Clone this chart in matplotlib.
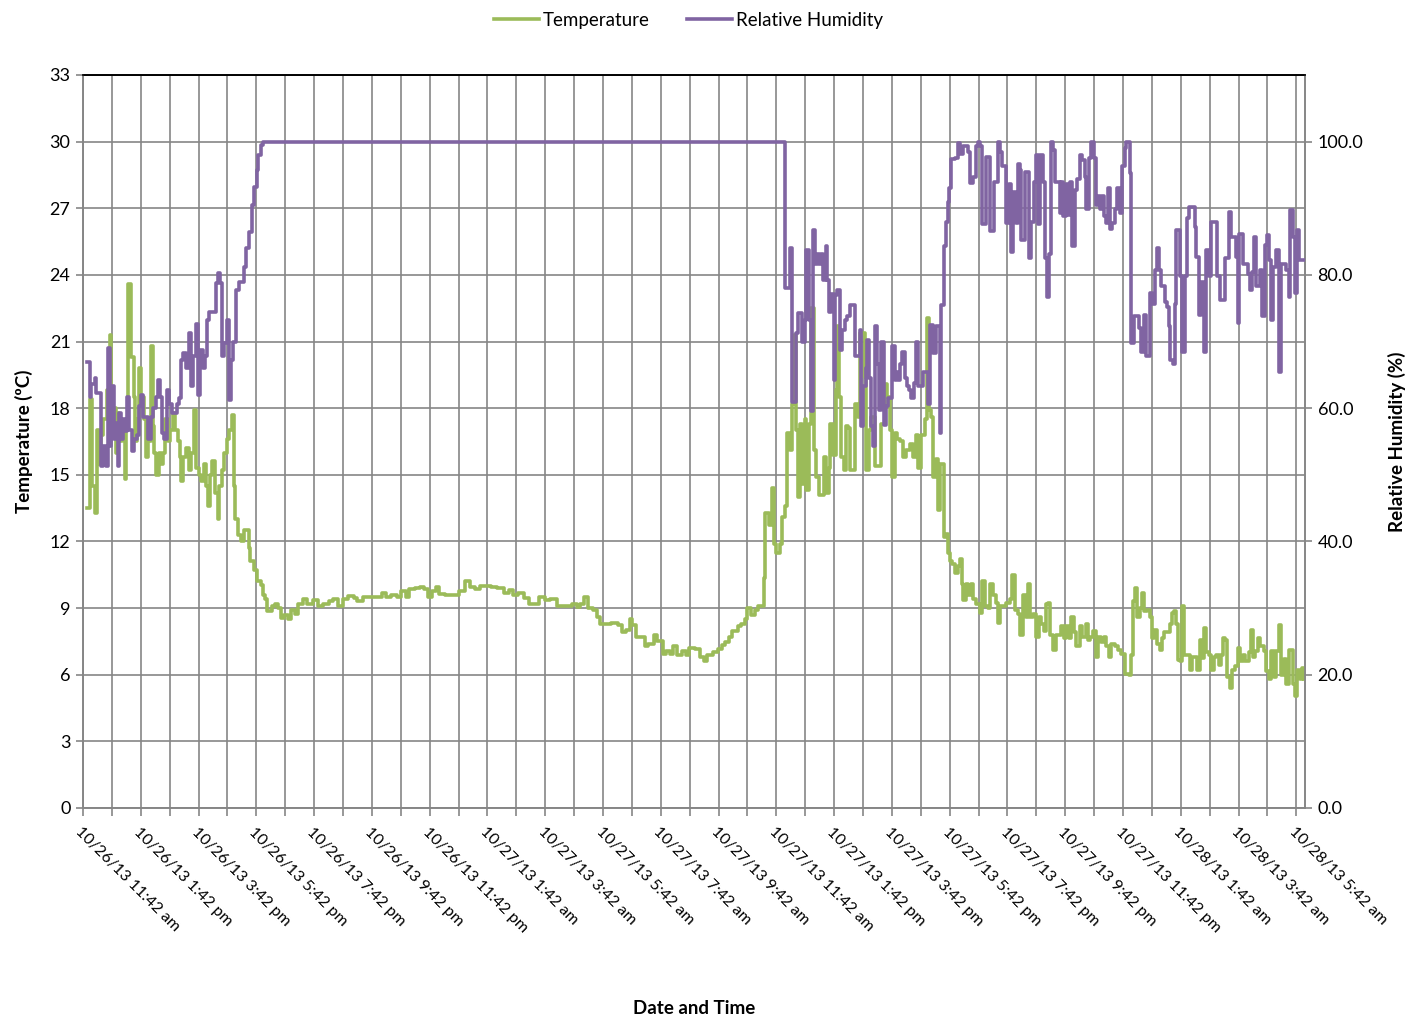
import numpy as np
import matplotlib.pyplot as plt
from matplotlib.ticker import FormatStrFormatter

plt.rcParams['font.family'] = ['Lato', 'DejaVu Sans']

GREEN = "#9BBB59"
PURPLE = "#8064A2"
GRID = "#868686"

# hours elapsed since 10/26/13 11:42 am
temp_hours = [
    0.14, 0.23, 0.30, 0.41, 0.48, 0.55, 0.63, 0.71, 0.83, 0.92, 0.98, 1.06, 1.13, 1.20,
    1.26, 1.36, 1.44, 1.49, 1.57, 1.67, 1.75, 1.80, 1.86, 1.93, 2.00, 2.10, 2.18, 2.25,
    2.36, 2.41, 2.47, 2.53, 2.62, 2.70, 2.78, 2.85, 2.93, 3.01, 3.10, 3.20, 3.28, 3.36,
    3.41, 3.47, 3.56, 3.66, 3.74, 3.83, 3.91, 4.00, 4.09, 4.20, 4.25, 4.33, 4.41, 4.48,
    4.57, 4.66, 4.71, 4.80, 4.89, 4.97, 5.06, 5.15, 5.23, 5.26, 5.38, 5.48, 5.57, 5.73,
    5.79, 5.91,
    6.04, 6.16, 6.22, 6.31, 6.38, 6.53, 6.66, 6.75, 6.84, 6.96, 7.09, 7.21, 7.33, 7.46,
    7.62, 7.77, 7.95, 8.14, 8.32, 8.51, 8.66, 8.82, 9.00, 9.19, 9.37, 9.50, 9.68, 9.87,
    10.12, 10.34, 10.49, 10.67, 10.86, 11.01, 11.17, 11.29, 11.48, 11.66, 11.82, 11.95,
    12.09, 12.22, 12.34, 12.53, 12.84, 13.02, 13.21, 13.39, 13.58, 13.76, 13.95, 14.13,
    14.32, 14.57, 14.75, 14.88, 15.06, 15.25, 15.43, 15.62, 15.80, 15.99, 16.17, 16.42,
    16.67, 16.91, 17.10, 17.22, 17.35, 17.47, 17.66, 17.78, 17.90, 18.03, 18.27, 18.52,
    18.65, 18.79, 18.92, 19.02, 19.14, 19.33, 19.45, 19.57, 19.76, 19.88, 20.07, 20.19,
    20.31, 20.44, 20.56, 20.75, 20.87, 20.99, 21.18, 21.36, 21.49, 21.61, 21.80, 21.98,
    22.11, 22.23, 22.35, 22.48, 22.66, 22.79, 22.91, 23.00, 23.12, 23.25, 23.37, 23.49,
    23.57, 23.62,
    23.75, 23.86, 23.91, 24.00, 24.12, 24.21, 24.29, 24.37, 24.46, 24.55, 24.61, 24.67,
    24.75, 24.81, 24.90, 24.98, 25.04, 25.13, 25.21, 25.29, 25.38, 25.48, 25.56, 25.64,
    25.73, 25.82, 25.87, 25.96, 26.05, 26.11, 26.17, 26.25, 26.33, 26.40, 26.48, 26.56,
    26.65, 26.73, 26.83, 26.88, 26.98, 27.06, 27.11, 27.21, 27.29, 27.40, 27.52, 27.63,
    27.75, 27.83, 27.92, 28.01, 28.09, 28.18, 28.27, 28.38, 28.50, 28.61, 28.73, 28.82,
    28.90, 29.02, 29.13, 29.21, 29.28, 29.36, 29.42, 29.51, 29.59, 29.67, 29.74, 29.82,
    29.88, 29.94,
    30.00, 30.09, 30.17, 30.29, 30.37, 30.42, 30.46, 30.55, 30.63, 30.75, 30.81, 30.92,
    31.04, 31.13, 31.21, 31.33, 31.41, 31.50, 31.59, 31.67, 31.73, 31.85, 31.96, 32.08,
    32.16, 32.25, 32.36, 32.45, 32.54, 32.63, 32.71, 32.79, 32.88, 33.00, 33.09, 33.17,
    33.25, 33.32, 33.40, 33.48, 33.58, 33.69, 33.78, 33.86, 33.94, 34.04, 34.13, 34.21,
    34.30, 34.38, 34.50, 34.59, 34.71, 34.79, 34.87, 34.96, 35.05, 35.13, 35.25, 35.33,
    35.42, 35.51, 35.59, 35.71, 35.82, 35.94, 36.06,
    36.20, 36.28, 36.35, 36.43, 36.48, 36.58, 36.66, 36.74, 36.83, 36.92, 37.00, 37.08,
    37.18, 37.27, 37.35, 37.43, 37.52, 37.61, 37.70, 37.78, 37.85, 37.89, 37.98, 38.04,
    38.12, 38.21, 38.31, 38.39, 38.47, 38.56, 38.65, 38.73, 38.81, 38.88, 38.96, 39.04,
    39.14, 39.23, 39.31, 39.39, 39.46, 39.54, 39.60, 39.69, 39.77, 39.89, 39.97, 40.06,
    40.15, 40.23, 40.35, 40.43, 40.50, 40.58, 40.66, 40.75, 40.87, 40.96, 41.04, 41.12,
    41.21, 41.31, 41.39, 41.47, 41.56, 41.65, 41.73, 41.81, 41.88, 41.95, 42.02, 42.11,
    42.19, 42.27,
]
temperature = [
    13.5, 18.4, 14.5, 13.3, 17.0, 15.5, 16.8, 17.5, 18.8, 21.3, 17.5, 18.0, 16.0, 17.8,
    16.5, 17.0, 14.8, 17.5, 23.6, 20.3, 18.5, 16.5, 17.5, 19.8, 18.5, 17.5, 15.8, 16.5,
    20.8, 17.2, 16.0, 15.0, 16.0, 15.5, 16.0, 17.5, 16.5, 17.0, 17.8, 17.0, 16.5, 15.8,
    14.7, 15.8, 16.2, 15.2, 16.0, 17.9, 15.3, 15.0, 14.7, 15.5, 14.5, 13.6, 15.0, 15.6,
    14.2, 13.0, 14.5, 15.2, 16.0, 16.6, 17.0, 17.7, 14.5, 13.0, 12.3, 12.0, 12.5, 11.7,
    11.1, 10.7,
    10.2, 10.05, 9.6, 9.4, 8.85, 9.1, 9.2, 9.0, 8.55, 8.7, 8.5, 8.9, 8.75, 9.2,
    9.4, 9.2, 9.35, 9.1, 9.2, 9.3, 9.4, 9.1, 9.4, 9.55, 9.45, 9.3, 9.5, 9.5,
    9.5, 9.7, 9.5, 9.6, 9.5, 9.75, 9.5, 9.85, 9.9, 9.95, 9.85, 9.5,
    9.75, 9.95, 9.65, 9.6, 9.6, 9.75, 10.2, 9.95, 9.85, 10.0, 10.0, 9.95,
    9.9, 9.7, 9.8, 9.6, 9.7, 9.45, 9.2, 9.2, 9.5, 9.35, 9.4, 9.1,
    9.1, 9.2, 9.05, 9.2, 9.5, 9.0, 8.9, 8.6, 8.3, 8.3, 8.35, 8.25,
    7.9, 8.0, 8.5, 8.25, 7.7, 7.7, 7.3, 7.4, 7.8, 7.5, 6.95, 7.05,
    6.95, 7.3, 6.9, 7.05, 6.9, 7.2, 7.15, 6.8, 6.6, 6.9, 7.0, 7.15,
    7.35, 7.45, 7.7, 7.95, 8.2, 8.3, 8.5, 9.0, 8.7, 8.9, 9.1, 9.1,
    10.35, 13.3,
    12.75, 14.4, 11.9, 11.5, 11.9, 13.1, 13.6, 16.9, 16.1, 18.2, 21.3, 17.0,
    14.0, 17.3, 14.6, 17.5, 14.3, 17.3, 22.5, 16.1, 14.9, 14.1, 14.1, 15.8,
    14.2, 15.3, 17.3, 15.9, 18.8, 21.7, 18.5, 15.8, 15.2, 17.2, 17.1, 15.2,
    15.2, 18.2, 17.6, 21.4, 21.4, 19.4, 15.2, 17.0, 17.6, 15.4, 15.4, 17.3,
    19.1, 18.5, 17.0, 14.9, 16.9, 16.6, 16.5, 15.8, 16.1, 16.4, 15.8, 16.8,
    15.3, 16.8, 17.5, 22.05, 17.9, 17.6, 14.9, 15.7, 13.4, 15.5, 15.5, 12.2,
    12.35, 11.5,
    11.1, 11.0, 10.6, 10.9, 11.2, 10.1, 9.35, 10.1, 9.6, 10.1, 9.4, 9.2,
    8.8, 10.2, 9.1, 9.0, 10.1, 9.6, 9.25, 8.35, 9.1, 9.1, 9.25, 9.4,
    10.5, 8.9, 8.75, 7.8, 9.6, 8.6, 10.1, 8.6, 8.75, 7.7, 8.6, 8.3,
    7.95, 9.2, 9.25, 7.8, 7.1, 7.8, 7.8, 8.2, 7.65, 8.2, 7.65, 8.6,
    7.9, 7.3, 8.2, 7.7, 8.3, 7.55, 7.7, 7.95, 6.8, 7.7, 7.45, 7.7,
    7.3, 6.8, 7.4, 7.3, 7.1, 6.95, 6.05,
    6.0, 6.9, 9.3, 9.9, 8.6, 9.0, 9.7, 8.85, 8.9, 8.6, 7.65, 8.0,
    7.4, 7.1, 7.65, 7.9, 7.9, 8.3, 8.8, 8.85, 8.3, 6.65, 6.6, 9.1,
    6.9, 6.9, 6.2, 6.8, 6.8, 6.2, 7.55, 6.75, 8.1, 7.0, 6.9, 6.2,
    6.8, 6.9, 6.45, 6.9, 7.65, 7.55, 5.9, 5.4, 6.2, 6.4, 7.2, 6.6,
    6.9, 6.6, 7.0, 8.0, 6.8, 7.05, 7.65, 7.3, 7.05, 6.15, 5.8, 7.05,
    5.9, 7.05, 8.25, 6.0, 6.7, 5.6, 7.1, 7.1, 5.6, 5.05, 6.2, 5.8,
    6.3, 5.8,
]

rh_hours = [
    0.14, 0.23, 0.29, 0.40, 0.46, 0.60, 0.63, 0.71, 0.80, 0.86, 0.92, 0.98, 1.06, 1.13,
    1.20, 1.26, 1.33, 1.40, 1.47, 1.53, 1.61, 1.70, 1.78, 1.86, 1.95, 2.02, 2.09, 2.25,
    2.36, 2.44, 2.53, 2.60, 2.67, 2.74, 2.82, 2.90, 2.99, 3.08, 3.24, 3.33, 3.39, 3.47,
    3.56, 3.66, 3.74, 3.82, 3.91, 3.98, 4.05, 4.14, 4.21, 4.28, 4.37, 4.60, 4.67, 4.74,
    4.80, 4.89, 4.98, 5.06, 5.11, 5.20, 5.31, 5.40, 5.56, 5.63, 5.66, 5.76, 5.84, 5.92,
    6.01, 6.07, 6.15, 6.24, 24.29,
    24.48, 24.55, 24.67, 24.75, 24.90, 24.98, 25.04, 25.13, 25.21, 25.27, 25.34, 25.41,
    25.48, 25.56, 25.61, 25.71, 25.76, 25.82, 25.90, 25.98, 26.04, 26.11, 26.19, 26.28,
    26.36, 26.45, 26.54, 26.71, 26.88, 26.94, 27.00, 27.09, 27.14, 27.21, 27.29, 27.34,
    27.40, 27.48, 27.55, 27.63, 27.71, 27.78, 27.86, 28.01, 28.09, 28.15, 28.21, 28.27,
    28.36, 28.44, 28.52, 28.59, 28.67, 28.75, 28.82, 28.90, 29.07, 29.25, 29.33, 29.42,
    29.51, 29.65, 29.71, 29.79, 29.88, 29.94,
    29.98, 30.06, 30.17, 30.29, 30.37, 30.46, 30.63, 30.72, 30.81, 30.90, 30.98, 31.04,
    31.13, 31.27, 31.41, 31.53, 31.67, 31.73, 31.80, 31.96, 32.05, 32.13, 32.19, 32.28,
    32.36, 32.45, 32.48, 32.60, 32.75, 32.83, 32.91, 33.00, 33.07, 33.11, 33.23, 33.30,
    33.37, 33.44, 33.49, 33.58, 33.64, 33.81, 33.86, 33.92, 34.01, 34.09, 34.18, 34.24,
    34.33, 34.41, 34.50, 34.59, 34.67, 34.73, 34.82, 34.90, 34.98, 35.05, 35.13, 35.19,
    35.26, 35.33, 35.42, 35.49, 35.56, 35.63, 35.71, 35.79, 35.88, 35.97, 36.06, 36.11,
    36.23, 36.29, 36.37, 36.55, 36.63, 36.71, 36.78, 36.94, 37.01, 37.09, 37.17, 37.24,
    37.32, 37.44, 37.52, 37.59, 37.64, 37.73, 37.79, 37.84, 37.98, 38.05, 38.13, 38.21,
    38.30, 38.48, 38.54, 38.63, 38.71, 38.79, 38.88, 38.97, 39.05, 39.25, 39.34, 39.52,
    39.67, 39.75, 39.92, 39.98, 40.03, 40.15, 40.32, 40.40, 40.47, 40.55, 40.61, 40.73,
    40.81, 40.90, 40.98, 41.05, 41.13, 41.19, 41.28, 41.40, 41.48, 41.65, 41.73, 41.79,
    41.88, 41.96, 42.02, 42.09, 42.27,
]
humidity = [
    67.0, 61.7, 63.7, 64.6, 62.3, 62.3, 51.3, 54.3, 51.3, 69.0, 54.3, 63.3, 55.3, 57.8,
    51.3, 59.3, 55.3, 58.3, 56.5, 61.7, 56.7, 53.5, 55.3, 56.0, 60.3, 62.0, 58.7, 55.3,
    58.7, 60.0, 61.7, 64.3, 61.7, 56.3, 55.3, 62.8, 60.7, 59.3, 60.7, 61.5, 67.3, 68.3,
    66.0, 71.3, 63.3, 67.8, 72.7, 62.0, 68.8, 66.0, 67.8, 73.3, 74.5, 78.8, 80.3, 78.8,
    67.8, 69.8, 73.3, 61.3, 67.3, 70.0, 77.7, 79.0, 81.2, 82.2, 84.0, 86.4, 90.5, 93.2,
    95.7, 98.0, 99.5, 100.0, 78.0,
    84.0, 61.0, 71.3, 74.3, 70.0, 73.3, 83.7, 73.3, 59.5, 86.7, 81.7, 83.2,
    81.7, 83.2, 79.3, 84.3, 79.3, 74.5, 77.2, 64.3, 77.0, 77.8, 68.8, 71.7,
    73.3, 73.8, 75.5, 67.8, 71.7, 57.3, 63.3, 66.0, 70.2, 64.6, 57.3, 54.3,
    72.3, 66.7, 59.7, 70.0, 57.5, 60.3, 61.5, 69.3, 64.3, 65.5, 64.3, 66.7,
    68.5, 64.6, 63.3, 62.8, 61.5, 63.8, 70.0, 63.3, 65.5, 60.7, 72.5, 68.3,
    72.3, 56.3, 75.5, 84.3, 88.0, 91.0,
    93.0, 97.4, 97.6, 99.8, 98.2, 99.3, 98.5, 93.8, 94.7, 99.3, 100.0, 99.3,
    87.6, 97.7, 86.6, 94.0, 100.0, 98.5, 96.3, 87.8, 93.6, 83.4, 92.5, 87.8,
    96.6, 95.8, 85.3, 95.4, 82.6, 88.0, 94.0, 98.0, 87.6, 98.0, 94.0, 82.6,
    76.7, 83.2, 100.0, 98.7, 94.0, 89.3, 94.0, 88.8, 93.6, 89.0, 94.0, 84.4,
    92.7, 94.4, 98.0, 97.2, 94.7, 89.9, 97.6, 100.0, 97.6, 90.5, 91.9, 89.9,
    91.9, 88.8, 87.8, 93.0, 86.9, 87.8, 89.9, 93.0, 89.3, 96.3, 99.0, 100.0,
    95.3, 69.8, 73.8, 72.0, 68.5, 74.0, 67.8, 77.3, 75.7, 80.8, 84.0, 80.8,
    78.3, 76.0, 75.2, 72.3, 67.3, 66.7, 75.7, 86.7, 79.8, 68.5, 79.8, 88.6,
    90.2, 87.2, 82.7, 74.0, 79.0, 68.5, 83.8, 79.8, 88.0, 79.8, 76.3, 82.5,
    89.5, 85.7, 82.7, 72.8, 86.2, 81.7, 80.2, 77.8, 80.5, 85.7, 78.3, 80.8,
    73.8, 84.5, 86.0, 82.3, 73.2, 81.2, 83.7, 65.5, 81.7, 80.8, 76.7, 89.7,
    85.7, 77.3, 86.7, 82.2, 82.2,
]

tick_hours = list(range(0, 43, 2))
tick_labels = [
    "10/26/13 11:42 am", "10/26/13 1:42 pm", "10/26/13 3:42 pm", "10/26/13 5:42 pm",
    "10/26/13 7:42 pm", "10/26/13 9:42 pm", "10/26/13 11:42 pm", "10/27/13 1:42 am",
    "10/27/13 3:42 am", "10/27/13 5:42 am", "10/27/13 7:42 am", "10/27/13 9:42 am",
    "10/27/13 11:42 am", "10/27/13 1:42 pm", "10/27/13 3:42 pm", "10/27/13 5:42 pm",
    "10/27/13 7:42 pm", "10/27/13 9:42 pm", "10/27/13 11:42 pm", "10/28/13 1:42 am",
    "10/28/13 3:42 am", "10/28/13 5:42 am",
]

fig = plt.figure(figsize=(14.11, 10.19), dpi=100)
ax = fig.add_axes([0.0588, 0.2071, 0.8661, 0.7193])
ax2 = ax.twinx()

ax.plot(temp_hours, temperature, drawstyle="steps-post", color=GREEN, lw=2.6,
        label="Temperature", zorder=3)
ax2.plot(rh_hours, humidity, drawstyle="steps-post", color=PURPLE, lw=2.6,
         label="Relative Humidity", zorder=3)

ax.set_xlim(0, 42.3)
ax.set_ylim(0, 33)
ax2.set_ylim(0, 110)

# hourly grid, labels every 2 hours
hour_labels = {h: lab for h, lab in zip(tick_hours, tick_labels)}
ax.set_xticks(range(0, 43))
ax.set_xticklabels([hour_labels.get(h, "") for h in range(0, 43)],
                   rotation=-45, ha="left", va="top", rotation_mode="anchor", fontsize=11.5)
ax.set_yticks(np.arange(0, 34, 3))
ax2.set_yticks(np.arange(0, 101, 20))
ax2.yaxis.set_major_formatter(FormatStrFormatter("%.1f"))

ax.grid(True, color=GRID, lw=1.2, zorder=0)
ax.set_axisbelow(True)

for a in (ax, ax2):
    for side in ("left", "right", "bottom"):
        a.spines[side].set_color(GRID)
        a.spines[side].set_linewidth(1.2)
    a.spines["top"].set_color("black")
    a.spines["top"].set_linewidth(1.2)

ax.tick_params(axis="x", length=6, width=1.2, color=GRID, pad=6)
ax.tick_params(axis="y", length=5, width=1.2, color=GRID, labelsize=13, pad=4)
ax2.tick_params(axis="y", length=5, width=1.2, color=GRID, labelsize=13, pad=4)

ax.set_ylabel("Temperature (ºC)", fontsize=13.5, fontweight="bold", labelpad=12)
ax2.set_ylabel("Relative Humidity (%)", fontsize=13.5, fontweight="bold", labelpad=18)
fig.text(0.4918, 0.002, "Date and Time", ha="center", va="bottom",
         fontsize=13.5, fontweight="bold")

h1, l1 = ax.get_legend_handles_labels()
h2, l2 = ax2.get_legend_handles_labels()
fig.legend(h1 + h2, l1 + l2, loc="upper center", bbox_to_anchor=(0.488, 1.005), ncol=2,
           frameon=False, fontsize=13.5, handlelength=2.4, handletextpad=0.2,
           columnspacing=2.0)

fig.savefig("out.png", dpi=100)
print("Saved out.png")
